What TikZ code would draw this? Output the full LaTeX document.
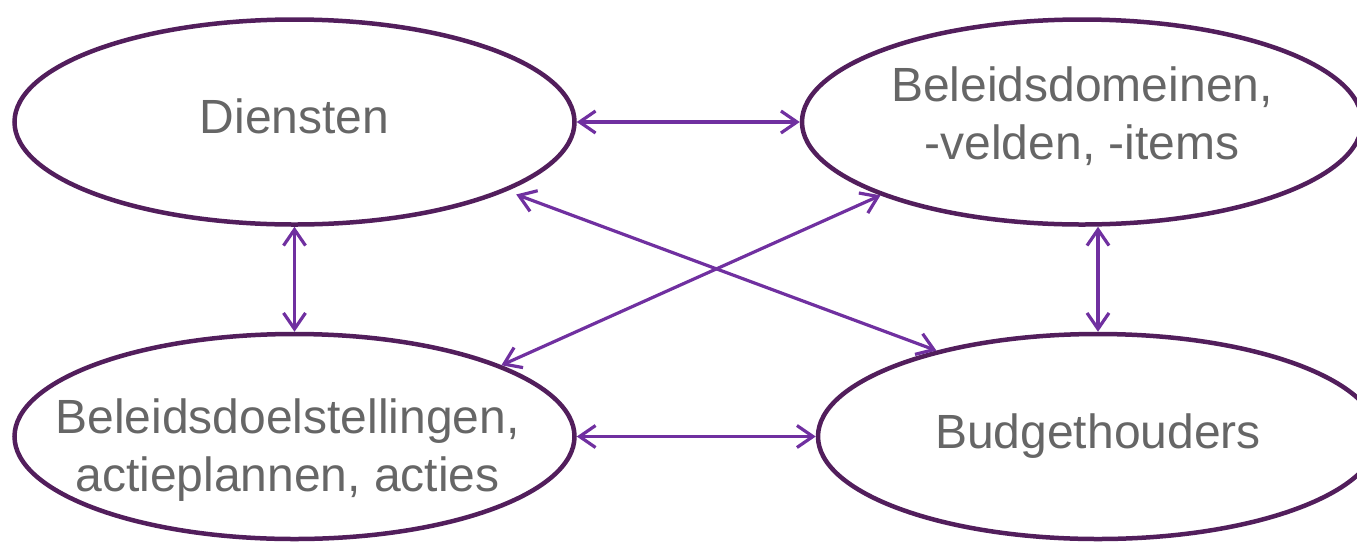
\documentclass[tikz,border=0pt]{standalone}
\usepackage{fontspec}
\setmainfont{Liberation Sans}
\usepackage{tikz}
\usetikzlibrary{shapes.geometric, positioning, arrows.meta}
\definecolor{ringpurple}{HTML}{521E5C}
\definecolor{linkpurple}{HTML}{7030A0}
\definecolor{txtgray}{HTML}{666666}

\begin{document}
\begin{tikzpicture}[x=1pt, y=-1pt,
  bubble/.style={ellipse, draw=ringpurple, line width=4.5pt, minimum width=560pt, minimum height=205pt},
  txt/.style={text=txtgray, align=center, font=\fontsize{48}{58}\selectfont},
  link/.style={draw=linkpurple, line width=3.2pt},
  >={Straight Barb[length=16pt, width=22pt]}]
  \useasboundingbox (0,0) rectangle (1357,542);

  \node[bubble] (dien) at (294.5,122) {};
  \node[bubble, right=223pt of dien] (domein) {};
  \node[bubble, below=105pt of dien] (doel) {};
  \node[bubble, right=239pt of doel] (budget) {};

  \node[txt] (dientxt) at ([yshift=6pt]dien.center) {Diensten};
  \node[txt] (domeintxt) at ([yshift=6pt]domein.center) {Beleidsdomeinen,\\-velden, -items};
  \node[txt] (doeltxt) at ([xshift=-7pt, yshift=-14pt]doel.center) {Beleidsdoelstellingen,\\actieplannen, acties};
  \node[txt] (budgettxt) at (budget) {Budgethouders};

  \draw[link]
  (dien) edge[<->] (domein)
  (doel) edge[<->] (budget)
  (dien) edge[<->] (doel)
  (domein.south -| budget.north) edge[<->] (budget)
  (dien.-18.7) edge[<->, shorten <=10pt] (budget.152)
  (doel.19.8) edge[<->] (domein.200.7);
\end{tikzpicture}
\end{document}
